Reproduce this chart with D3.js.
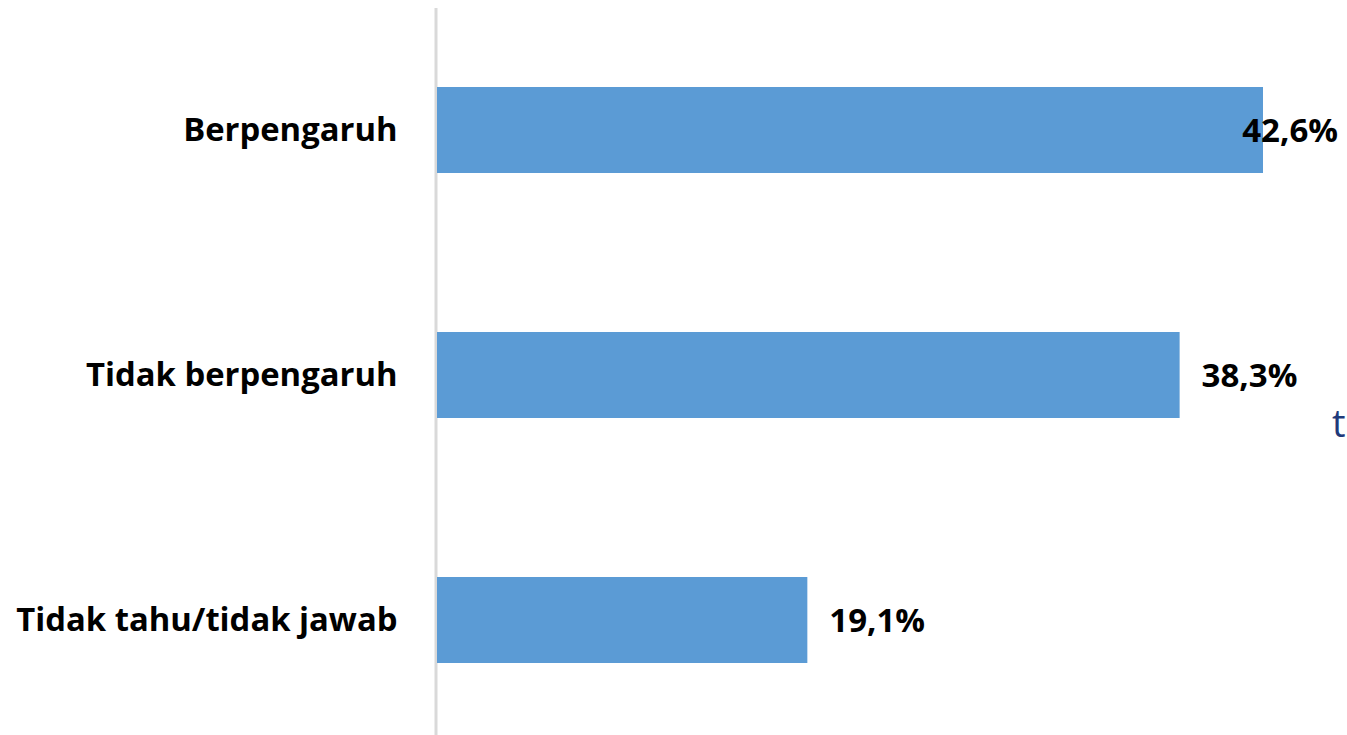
<!DOCTYPE html>
<html>
<head>
<meta charset="utf-8">
<script src="https://cdn.jsdelivr.net/npm/d3@7"></script>
<style>
  html, body { margin: 0; padding: 0; background: #fff; }
  svg { display: block; }
  text { font-variant-ligatures: none; }
</style>
</head>
<body>
<svg id="chart" width="1347" height="735"></svg>
<script>
// Data
const categories = ["Berpengaruh", "Tidak berpengaruh", "Tidak tahu/tidak jawab"];
const values = [42.6, 38.3, 19.1];
const valueLabels = ["42,6%", "38,3%", "19,1%"];

const width = 1347, height = 735;
const svg = d3.select("#chart");

const x = d3.scaleLinear().domain([0, 42.6]).range([437, 1263]);
const y = d3.scaleBand()
  .domain(categories)
  .range([7.5, 742.5])
  .paddingInner(0.649)
  .paddingOuter(0.3245);

// axis line + category labels
const axis = svg.append("g")
  .attr("transform", "translate(435.5,0)")
  .call(d3.axisLeft(y).tickSize(0).tickSizeOuter(0).tickPadding(38));
axis.select(".domain").attr("stroke", "#d9d9d9").attr("stroke-width", 3);
axis.selectAll(".tick text")
  .attr("fill", "#000")
  .style("font-family", "'Open Sans', sans-serif")
  .style("font-weight", "bold")
  .style("font-size", "32.8px");

// bars
svg.append("g")
  .selectAll("rect")
  .data(categories)
  .join("rect")
  .attr("x", x(0))
  .attr("y", d => y(d))
  .attr("width", (d, i) => x(values[i]) - x(0))
  .attr("height", y.bandwidth())
  .attr("fill", "#5b9bd5");

// value labels
svg.append("g")
  .selectAll("text")
  .data(categories)
  .join("text")
  .attr("y", d => y(d) + y.bandwidth() / 2)
  .attr("dy", "0.35em")
  .style("font-family", "'Open Sans', sans-serif")
  .style("font-weight", "bold")
  .style("font-size", "33px")
  .attr("fill", "#000")
  .text((d, i) => valueLabels[i])
  .each(function (d, i) {
    const w = this.getComputedTextLength();
    let px = x(values[i]) + 22;
    if (px + w > width - 9) px = width - 9 - w;
    d3.select(this).attr("x", px);
  });

// stray letter at right edge
svg.append("text")
  .attr("x", 1332)
  .attr("y", 437)
  .style("font-family", "'Open Sans', sans-serif")
  .style("font-size", "38px")
  .attr("fill", "#1f3a7a")
  .text("t");
</script>
</body>
</html>
